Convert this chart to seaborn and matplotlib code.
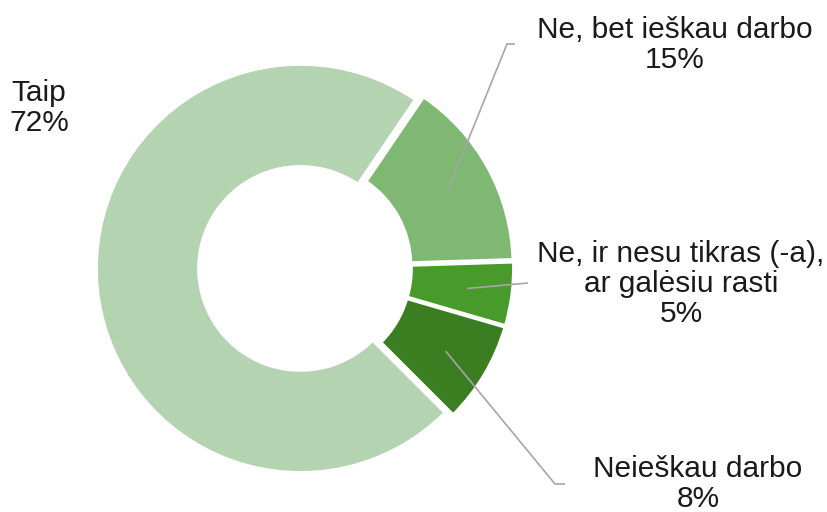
import matplotlib
matplotlib.use('Agg')
import matplotlib.pyplot as plt
import numpy as np
import seaborn as sns

CATEGORIES = ['Taip', 'Ne, bet ieškau darbo',
              'Ne, ir nesu tikras (-a),\nar galėsiu rasti', 'Neieškau darbo']
SHARES = [72, 15, 5, 8]
COLORS = ['#b4d3b0', '#7fb873', '#489b2a', '#3b7e22']

# label text centres and leader-line elbows, in pixel space (y down)
LABEL_POS = [(39, 108), (675, 45), (681, 284), (698, 484)]
ELBOWS = [None, [(507, 44), (515, 44)], [(528, 283)], [(555, 484), (565, 484)]]

W, H = 828, 512
CX, CY, R = 305, 268, 204

sns.set_theme(style='white')
plt.rcParams['font.family'] = ['Liberation Sans', 'DejaVu Sans']

fig = plt.figure(figsize=(W / 100, H / 100), dpi=100)
ax = fig.add_axes([0, 0, 1, 1])
ax.axis('off')

# pie explode is in data units here (axes are in pixels)
explode = [4.5] * len(SHARES)
wedges, _ = ax.pie(SHARES, colors=COLORS, startangle=315, counterclock=False,
                   explode=explode, radius=R, center=(CX, H - CY),
                   wedgeprops=dict(width=0.5 * R, edgecolor='white', linewidth=2.0))
ax.set_xlim(0, W)
ax.set_ylim(0, H)
ax.set_aspect('equal')

for wedge, cat, share, pos, elbow in zip(wedges, CATEGORIES, SHARES, LABEL_POS, ELBOWS):
    ax.text(pos[0], H - pos[1], f'{cat}\n{share}%', ha='center', va='center',
            fontsize=21.5, color='#1a1a1a', linespacing=1.08)
    if elbow is None:
        continue
    mid = np.deg2rad((wedge.theta1 + wedge.theta2) / 2)
    wx, wy = wedge.center
    r_mid = wedge.r - wedge.width / 2 + 6
    pts = [(wx + r_mid * np.cos(mid), wy + r_mid * np.sin(mid))]
    pts += [(x, H - y) for x, y in elbow]
    xs, ys = zip(*pts)
    ax.plot(xs, ys, color='#a6a6a6', lw=1.2, solid_capstyle='butt')

fig.savefig('out.png', dpi=100, facecolor='white')
